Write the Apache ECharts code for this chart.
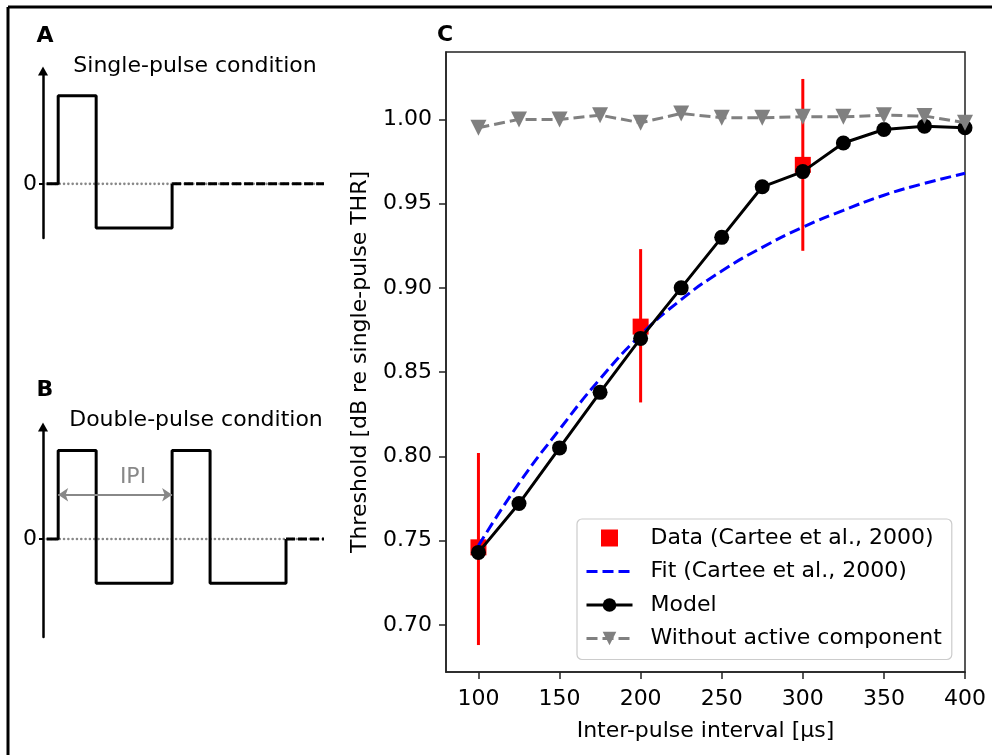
<!DOCTYPE html>
<html><head><meta charset="utf-8">
<script src="https://cdn.jsdelivr.net/npm/echarts@6/dist/echarts.min.js"></script>
<style>html,body{margin:0;padding:0;background:#fff}#c{width:992px;height:755px}</style>
</head><body><div id="c"></div>
<script>
// ---- Panel C data ----
const ipi = [100,125,150,175,200,225,250,275,300,325,350,375,400];
const model = [0.743,0.772,0.805,0.838,0.870,0.900,0.930,0.960,0.969,0.986,0.994,0.996,0.995];
const passive = [0.995,1.000,1.000,1.0025,0.998,1.0035,1.001,1.001,1.0015,1.0015,1.0025,1.002,0.998];
const dataIpi = [100,200,300];
const dataThr = [0.746,0.877,0.973];
const dataLow = [0.688,0.832,0.922];
const dataHigh = [0.802,0.923,1.024];
const fitIpi = [100,125,150,175,200,225,250,275,300,325,350,375,400];
const fitThr = [0.747,0.784,0.816,0.846,0.872,0.893,0.910,0.924,0.936,0.946,0.955,0.962,0.968];
const xTicks = [100,150,200,250,300,350,400];
const yTicks = [0.70,0.75,0.80,0.85,0.90,0.95,1.00];
// ---- Panel A / B pulse shapes (time in phase units, amplitude) ----
const singleT = [0.1,0.4,0.4,1.4,1.4,3.4,3.4];
const singleV = [0,0,1,1,-0.5,-0.5,0];
const singleTailT = [3.4,7.4];
const doubleT = [0.1,0.4,0.4,1.4,1.4,3.4,3.4,4.4,4.4,6.4,6.4];
const doubleV = [0,0,1,1,-0.5,-0.5,1,1,-0.5,-0.5,0];
const doubleTailT = [6.4,7.4];
const zeroT = [0.1,7.4];
const ipiT = [0.4,3.4];
const ipiLevel = 0.5;

const FF = 'DejaVu Sans';
const pairs = (xs, ys) => xs.map((x,i)=>[x, ys[i]]);
const flat = (xs, v) => xs.map(x=>[x, v]);

const chart = echarts.init(document.getElementById('c'), null, {renderer:'canvas'});

function pulseAxes(grid, ymin, ymax){
  return {
    x: {gridIndex:grid, type:'value', min:0, max:7.4, show:false},
    y: {gridIndex:grid, type:'value', min:ymin, max:ymax,
        axisLine:{show:true, onZero:false, symbol:['none','triangle'], symbolSize:[10,9], lineStyle:{color:'#000', width:2.5}},
        axisTick:{show:true, customValues:[0], length:4, lineStyle:{color:'#000', width:2}},
        axisLabel:{show:true, customValues:[0], formatter:()=> '0', margin:6, fontSize:22, fontFamily:FF, color:'#000'},
        splitLine:{show:false}}
  };
}
const pa = pulseAxes(1, -0.614, 1.28);
const pb = pulseAxes(2, -1.107, 1.265);

const lineBase = {type:'line', symbol:'none', silent:true, animation:false};
const zeroStyle = {color:'#888888', width:2.6, type:[0.01,4.3], cap:'round'};

const option = {
  animation:false,
  backgroundColor:'#fff',
  textStyle:{fontFamily:FF},
  grid:[
    {left:446, top:52, width:519, height:620, show:true, borderColor:'#222', borderWidth:1.5, backgroundColor:'transparent'},
    {left:43, top:71, width:281, height:167},
    {left:43, top:427, width:281, height:210}
  ],
  xAxis:[
    {gridIndex:0, type:'value', min:80, max:400,
     axisLine:{show:true, onZero:false, lineStyle:{color:'#222', width:1.5}},
     axisTick:{show:true, customValues:xTicks, length:7, lineStyle:{color:'#222', width:1.5}},
     axisLabel:{customValues:xTicks, margin:16, fontSize:22, fontFamily:FF, color:'#000'},
     splitLine:{show:false},
     name:'Inter-pulse interval [μs]', nameLocation:'middle', nameGap:48,
     nameTextStyle:{fontSize:22, fontFamily:FF, color:'#000'}},
    pa.x, pb.x
  ],
  yAxis:[
    {gridIndex:0, type:'value', min:0.672, max:1.040,
     axisLine:{show:true, onZero:false, lineStyle:{color:'#222', width:1.5}},
     axisTick:{show:true, customValues:yTicks, length:7, lineStyle:{color:'#222', width:1.5}},
     axisLabel:{customValues:yTicks, margin:14, fontSize:22, fontFamily:FF, color:'#000', formatter:v=>v.toFixed(2)},
     splitLine:{show:false},
     name:'Threshold [dB re single-pulse THR]', nameLocation:'middle', nameGap:75,
     nameTextStyle:{fontSize:22, fontFamily:FF, color:'#000'}},
    pa.y, pb.y
  ],
  legend:{
    data:[
      {name:'Data (Cartee et al., 2000)', icon:'path://M0,0L10,0L10,10L0,10Z'},
      {name:'Fit (Cartee et al., 2000)', itemStyle:{opacity:0}},
      {name:'Model'},
      {name:'Without active component'}
    ],
    orient:'vertical', left:577, top:519, itemWidth:46, itemHeight:17, itemGap:11.5,
    symbolKeepAspect:true,
    lineStyle:{width:3},
    padding:[8,10,10,8], backgroundColor:'rgba(255,255,255,0.8)', borderColor:'#cccccc', borderWidth:1.2, borderRadius:5,
    textStyle:{fontSize:22, fontFamily:FF, color:'#000', padding:[0,0,0,13]},
    selectedMode:false
  },
  series:[
    {type:'custom', name:'errbar', xAxisIndex:0, yAxisIndex:0, z:1, silent:true,
     data: dataIpi.map((x,i)=>[x, dataLow[i], dataHigh[i]]),
     encode:{x:0, y:[1,2]},
     renderItem:(params, api)=>{
       const x = api.value(0);
       const p1 = api.coord([x, api.value(1)]);
       const p2 = api.coord([x, api.value(2)]);
       return {type:'line', shape:{x1:p1[0], y1:p1[1], x2:p2[0], y2:p2[1]}, style:{stroke:'#ff0000', lineWidth:3}};
     }},
    {type:'scatter', name:'Data (Cartee et al., 2000)', xAxisIndex:0, yAxisIndex:0, z:2,
     data:pairs(dataIpi, dataThr), symbol:'rect', symbolSize:16, itemStyle:{color:'#ff0000', opacity:1}},
    {type:'line', name:'Fit (Cartee et al., 2000)', xAxisIndex:0, yAxisIndex:0, z:3,
     data:pairs(fitIpi, fitThr), smooth:true, symbol:'none',
     lineStyle:{color:'#0000ff', width:3, type:[11,5]}, itemStyle:{color:'#0000ff'}},
    {type:'line', name:'Model', xAxisIndex:0, yAxisIndex:0, z:4,
     data:pairs(ipi, model), symbol:'circle', symbolSize:15, showAllSymbol:true,
     lineStyle:{color:'#000', width:3}, itemStyle:{color:'#000'}},
    {type:'line', name:'Without active component', xAxisIndex:0, yAxisIndex:0, z:5,
     data:pairs(ipi, passive), symbol:'triangle', symbolRotate:180, symbolSize:16, showAllSymbol:true,
     lineStyle:{color:'#808080', width:3, type:[11,5]}, itemStyle:{color:'#808080'}},
    // Panel A
    Object.assign({}, lineBase, {xAxisIndex:1, yAxisIndex:1, z:2, data:flat(zeroT,0), lineStyle:zeroStyle}),
    Object.assign({}, lineBase, {xAxisIndex:1, yAxisIndex:1, z:3, data:pairs(singleT,singleV), lineStyle:{color:'#000', width:3}}),
    Object.assign({}, lineBase, {xAxisIndex:1, yAxisIndex:1, z:3, data:flat(singleTailT,0), lineStyle:{color:'#000', width:3, type:[9,3]}}),
    // Panel B
    Object.assign({}, lineBase, {xAxisIndex:2, yAxisIndex:2, z:2, data:flat(zeroT,0), lineStyle:zeroStyle}),
    Object.assign({}, lineBase, {xAxisIndex:2, yAxisIndex:2, z:3, data:pairs(doubleT,doubleV), lineStyle:{color:'#000', width:3}}),
    Object.assign({}, lineBase, {xAxisIndex:2, yAxisIndex:2, z:3, data:flat(doubleTailT,0), lineStyle:{color:'#000', width:3, type:[9,3]}}),
    {type:'lines', coordinateSystem:'cartesian2d', xAxisIndex:2, yAxisIndex:2, z:4, silent:true,
     symbol:['arrow','arrow'], symbolSize:10,
     data:[{coords:[[ipiT[0], ipiLevel],[ipiT[1], ipiLevel]]}],
     lineStyle:{color:'#888', width:2, opacity:1}}
  ],
  graphic:[
    {type:'line', shape:{x1:8, y1:7, x2:992, y2:7}, style:{stroke:'#000', lineWidth:3}},
    {type:'line', shape:{x1:8, y1:7, x2:8, y2:755}, style:{stroke:'#000', lineWidth:3}},
    {type:'text', style:{x:45, y:36, text:'A', font:'bold 22px "DejaVu Sans"', fill:'#000', textAlign:'center', textVerticalAlign:'middle'}},
    {type:'text', style:{x:195, y:66, text:'Single-pulse condition', font:'22px "DejaVu Sans"', fill:'#000', textAlign:'center', textVerticalAlign:'middle'}},
    {type:'text', style:{x:45, y:390, text:'B', font:'bold 22px "DejaVu Sans"', fill:'#000', textAlign:'center', textVerticalAlign:'middle'}},
    {type:'text', style:{x:196, y:420, text:'Double-pulse condition', font:'22px "DejaVu Sans"', fill:'#000', textAlign:'center', textVerticalAlign:'middle'}},
    {type:'text', style:{x:133, y:477, text:'IPI', font:'22px "DejaVu Sans"', fill:'#888', textAlign:'center', textVerticalAlign:'middle'}},
    {type:'text', style:{x:445, y:35, text:'C', font:'bold 22px "DejaVu Sans"', fill:'#000', textAlign:'center', textVerticalAlign:'middle'}}
  ]
};
chart.setOption(option);
</script>
</body></html>
